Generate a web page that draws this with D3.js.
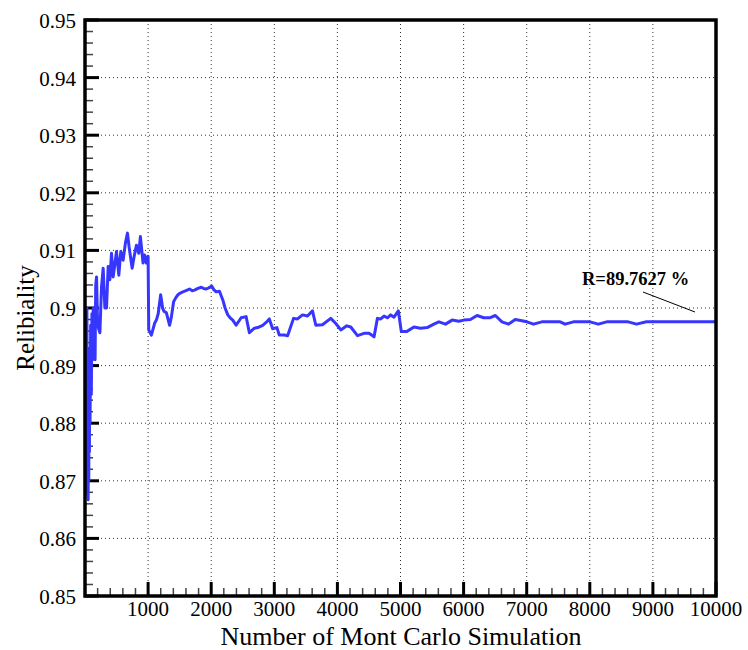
<!DOCTYPE html>
<html><head><meta charset="utf-8">
<script src="https://cdn.jsdelivr.net/npm/d3@7"></script>
<style>body{margin:0;background:#fff}svg{display:block}
text{font-family:"Liberation Serif","Tinos","Times New Roman","DejaVu Serif",serif}</style>
</head><body>
<svg id="c" width="748" height="650"></svg>
<script>
const xTicks = [1000,2000,3000,4000,5000,6000,7000,8000,9000,10000];
const yTicks = [0.85,0.86,0.87,0.88,0.89,0.9,0.91,0.92,0.93,0.94,0.95];
const yTickLabels = ["0.85","0.86","0.87","0.88","0.89","0.9","0.91","0.92","0.93","0.94","0.95"];
const simN = [20,30,40,50,55,60,65,70,75,80,90,100,110,120,130,140,150,160,170,183,200,236,262,288,315,341,367,394,420,446,472,499,536,567,604,641,673,699,747,778,815,852,878,920,946,973,1000,1010,1052,1105,1131,1160,1199,1230,1252,1289,1341,1370,1404,1440,1473,1510,1552,1600,1657,1700,1736,1790,1842,1880,1921,1960,2010,2040,2079,2131,2184,2220,2263,2300,2342,2395,2474,2553,2605,2684,2737,2816,2870,2921,2974,3042,3079,3158,3211,3305,3368,3447,3526,3605,3658,3763,3895,3975,4054,4149,4212,4318,4423,4502,4581,4634,4687,4739,4792,4845,4897,4966,5013,5097,5213,5318,5423,5529,5608,5713,5818,5924,6003,6108,6213,6319,6414,6503,6608,6714,6819,6924,7002,7108,7240,7530,7609,7740,8003,8135,8267,8609,8740,8898,9200,9600,10000];
const reliability = [0.9,0.9,0.868,0.8667,0.885,0.870,0.890,0.875,0.893,0.880,0.897,0.885,0.899,0.891,0.900,0.893,0.9,0.891,0.904,0.9054,0.897,0.8957,0.9037,0.9069,0.9,0.900,0.9072,0.9049,0.9095,0.9054,0.9075,0.9098,0.9057,0.9098,0.9083,0.9113,0.9130,0.9106,0.9069,0.9089,0.9109,0.9095,0.9124,0.9078,0.9092,0.9078,0.909,0.8962,0.8953,0.8974,0.8979,0.8990,0.9023,0.9000,0.8994,0.8992,0.8970,0.8985,0.9011,0.9018,0.9023,0.9026,0.9028,0.9030,0.9033,0.9030,0.9031,0.9034,0.9036,0.9034,0.9033,0.9035,0.9038,0.9032,0.9028,0.9029,0.9014,0.9000,0.8988,0.8983,0.8979,0.8970,0.8983,0.8985,0.8957,0.8965,0.8966,0.8970,0.8975,0.8981,0.8964,0.8966,0.8953,0.8953,0.8952,0.8982,0.8981,0.8988,0.8986,0.8995,0.8970,0.8971,0.8982,0.8973,0.8962,0.8969,0.8967,0.8952,0.8956,0.8956,0.8950,0.8982,0.8981,0.8986,0.8983,0.8988,0.8984,0.8995,0.8959,0.8959,0.8967,0.8965,0.8966,0.8972,0.8976,0.8972,0.8979,0.8977,0.8979,0.8980,0.8987,0.8983,0.8983,0.8987,0.8976,0.8972,0.8980,0.8978,0.8976,0.8972,0.8976,0.8976,0.8972,0.8976,0.8976,0.8972,0.8976,0.8976,0.8972,0.89762,0.89762,0.89762,0.89762];
const annotation = "R=89.7627 %";
const xTitle = "Number of Mont Carlo Simulation";
const yTitle = "Relibiality";

const svg = d3.select("#c");
const L = 85, R = 716, T = 20, B = 596;
const x = d3.scaleLinear().domain([0,10000]).range([L,R]);
const y = d3.scaleLinear().domain([0.85,0.95]).range([B,T]);

// grid
const g = svg.append("g");
g.selectAll("line.vx").data(xTicks.filter(d=>d<10000)).join("line")
  .attr("x1",d=>x(d)).attr("x2",d=>x(d)).attr("y1",T).attr("y2",B)
  .attr("stroke","#333").attr("stroke-width",1).attr("stroke-dasharray","1,3");
g.selectAll("line.hy").data(yTicks.filter(d=>d>0.85&&d<0.95)).join("line")
  .attr("x1",L).attr("x2",R).attr("y1",d=>y(d)).attr("y2",d=>y(d))
  .attr("stroke","#333").attr("stroke-width",1).attr("stroke-dasharray","1,3");

// minor ticks
const yMinor = d3.range(0,51).map(i=>0.85+i*0.002).filter((d,i)=>i%5!==0);
svg.append("g").selectAll("line").data(yMinor).join("line")
  .attr("x1",L).attr("x2",L+8).attr("y1",d=>y(d)).attr("y2",d=>y(d))
  .attr("stroke","#444").attr("stroke-width",1.5);
const xMinor = d3.range(0,51).map(i=>i*200).filter((d,i)=>i%5!==0);
svg.append("g").selectAll("line").data(xMinor).join("line")
  .attr("x1",d=>x(d)).attr("x2",d=>x(d)).attr("y1",B).attr("y2",B-8)
  .attr("stroke","#444").attr("stroke-width",1.5);
// major ticks
svg.append("g").selectAll("line").data(yTicks).join("line")
  .attr("x1",L).attr("x2",L+14).attr("y1",d=>y(d)).attr("y2",d=>y(d))
  .attr("stroke","#000").attr("stroke-width",3);
svg.append("g").selectAll("line").data(xTicks).join("line")
  .attr("x1",d=>x(d)).attr("x2",d=>x(d)).attr("y1",B).attr("y2",B-14)
  .attr("stroke","#000").attr("stroke-width",3);

// line
const line = d3.line().x((d,i)=>x(simN[i])).y(d=>y(d));
svg.append("path").datum(reliability).attr("d",line)
  .attr("fill","none").attr("stroke","#3636ff").attr("stroke-width",3)
  .attr("stroke-linejoin","round");

// frame
svg.append("rect").attr("x",L).attr("y",T).attr("width",R-L).attr("height",B-T)
  .attr("fill","none").attr("stroke","#000").attr("stroke-width",3.5);

// tick labels
svg.append("g").selectAll("text").data(yTicks).join("text")
  .attr("x",L-9).attr("y",d=>y(d)+8).attr("text-anchor","end")
  .attr("font-size",21).text((d,i)=>yTickLabels[i]);
svg.append("g").selectAll("text").data(xTicks).join("text")
  .attr("x",d=>x(d)).attr("y",B+20).attr("text-anchor","middle")
  .attr("font-size",21).text(d=>d);

// titles
svg.append("text").attr("x",401).attr("y",645).attr("text-anchor","middle")
  .attr("font-size",26).text(xTitle);
svg.append("text").attr("transform","translate(34,318) rotate(-90)").attr("text-anchor","middle")
  .attr("font-size",25).text(yTitle);

// annotation
svg.append("text").attr("x",582).attr("y",285)
  .attr("font-weight","bold").attr("font-size",18.5).text(annotation);
svg.append("line").attr("x1",643).attr("y1",292).attr("x2",695).attr("y2",312)
  .attr("stroke","#000").attr("stroke-width",1);
</script>
</body></html>
